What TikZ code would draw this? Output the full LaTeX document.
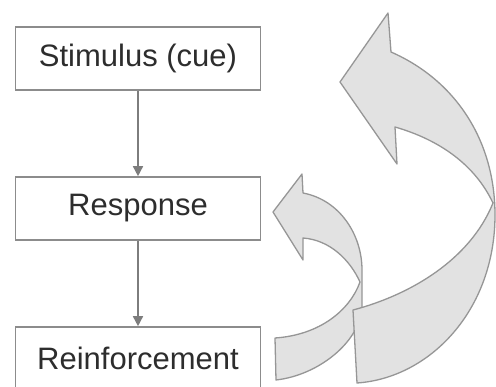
\documentclass[tikz,border=0pt]{standalone}
\usepackage{fontspec}
\setmainfont{Liberation Sans}
\usetikzlibrary{arrows.meta}
\definecolor{boxedge}{RGB}{140,140,140}
\definecolor{txt}{RGB}{45,45,45}
\definecolor{conn}{RGB}{125,125,125}
\definecolor{arrfill}{RGB}{226,226,226}
\definecolor{arredge}{RGB}{150,150,150}
\tikzset{
  stagebox/.style={draw=boxedge, line width=1.6pt, fill=white, rectangle,
    minimum width=245pt, minimum height=63pt, inner sep=0pt,
    text=txt, font=\fontsize{31}{36}\selectfont},
  connline/.style={draw=conn, line width=1.5pt, -{Triangle[width=10pt,length=10pt]}},
  bigarrow/.style={fill=arrfill, draw=arredge, line width=1.3pt, line join=round}
}
\begin{document}
\begin{tikzpicture}[x=1pt,y=-1pt]
\useasboundingbox (0,0) rectangle (496,387);
\clip (0,0) rectangle (496,387);
\node[stagebox] (stim) at (138,58.5) {Stimulus (cue)};
\node[stagebox] (resp) at (138,208.5) {Response};
\node[stagebox] (reinf) at (138,358.5) {Reinforcement};
\draw[connline] (stim.south) -- (resp.north);
\draw[connline] (resp.south) -- (reinf.north);
% small curved arrow
\path[bigarrow] (303,193) .. controls (340,200) and (362,235) .. (362,270)
  -- (362,305) .. controls (362,340) and (320,375) .. (276,380)
  -- (275,338) .. controls (320,335) and (350,310) .. (360,282)
  .. controls (350,260) and (330,240) .. (303,238)
  -- (303,260) -- (273,212) -- (302,174) -- cycle;
% big curved arrow
\path[bigarrow] (391,52) .. controls (455,80) and (495,140) .. (495,215)
  .. controls (495,310) and (430,378) .. (357,383)
  -- (353,310) .. controls (410,295) and (470,260) .. (493,203)
  .. controls (475,165) and (440,140) .. (395,127)
  -- (397,164) -- (340,82) -- (388,13) -- cycle;
\end{tikzpicture}
\end{document}
